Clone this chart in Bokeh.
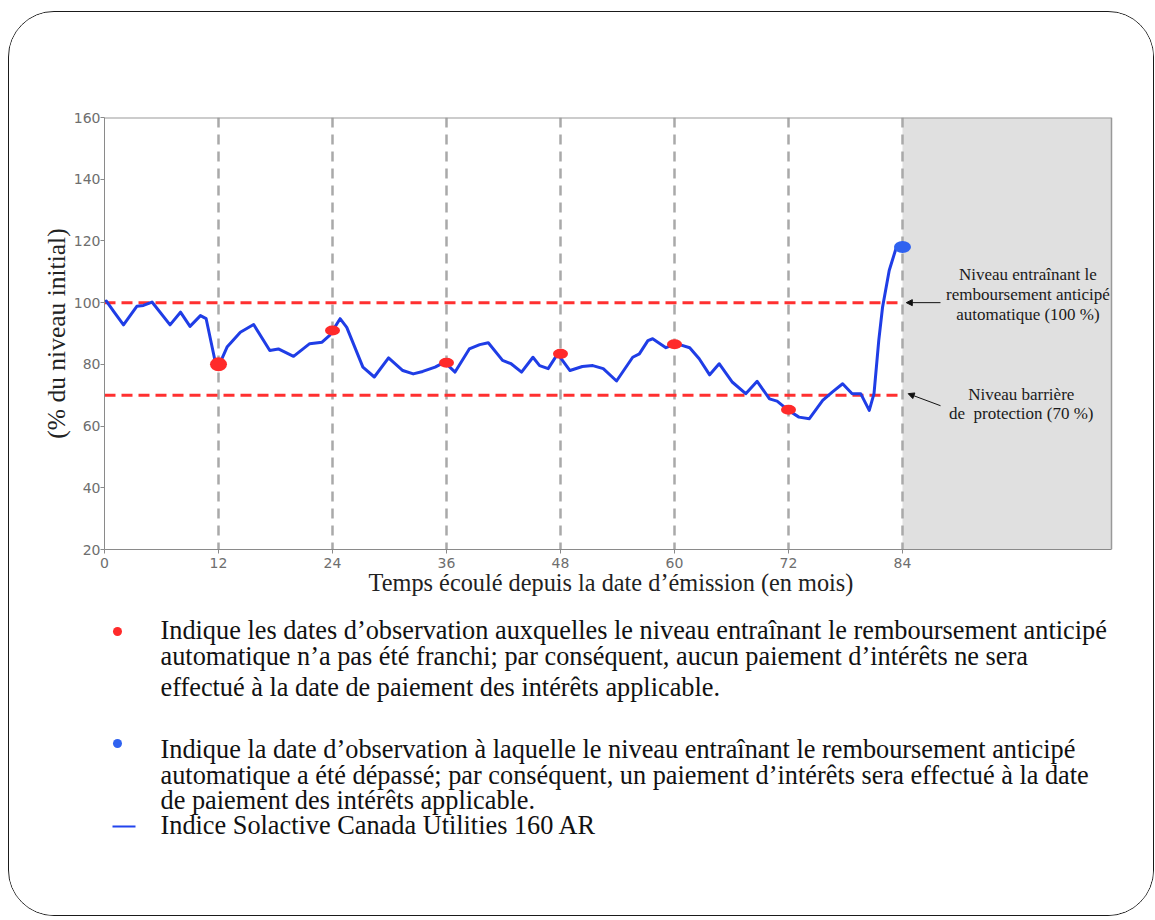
from bokeh.plotting import figure
from bokeh.layouts import column
from bokeh.models import (FixedTicker, Span, BoxAnnotation, Label, Arrow,
                          NormalHead, Range1d)
from bokeh.core.properties import value
from bokeh.embed import file_html
from bokeh.resources import INLINE

# ---------------- data ----------------
months = [0.2, 1.0, 2.0, 3.4, 4.1, 5.0, 6.9, 8.0, 9.0, 10.1, 10.7, 11.7, 12.2,
          12.9, 14.3, 15.7, 17.4, 18.3, 19.9, 21.6, 22.9, 23.7, 24.8, 25.5,
          27.2, 28.4, 29.9, 31.4, 32.5, 33.5, 34.8, 35.8, 36.9, 38.4, 39.5,
          40.4, 41.9, 42.8, 43.9, 45.1, 45.8, 46.7, 47.7, 49.0, 50.3, 51.4,
          52.5, 53.9, 55.6, 56.3, 57.2, 57.7, 59.1, 60.2, 61.6, 62.6, 63.7,
          64.7, 66.1, 67.5, 68.7, 70.0, 70.8, 71.9, 73.1, 74.2, 75.6, 76.6,
          77.7, 78.7, 79.6, 80.5, 81.0, 81.5, 81.9, 82.6, 83.3, 84.0]
index_level = [100.5, 97.0, 92.8, 98.8, 99.1, 100.2, 92.8, 96.9, 92.3, 95.8,
               94.8, 80.2, 80.7, 85.6, 90.4, 92.9, 84.5, 85.0, 82.6, 86.7,
               87.2, 89.4, 94.8, 92.0, 79.1, 75.9, 82.1, 78.0, 76.9, 77.7,
               79.1, 80.7, 77.5, 85.0, 86.4, 87.0, 81.3, 80.2, 77.5, 82.3,
               79.6, 78.6, 83.4, 78.0, 79.3, 79.6, 78.6, 74.6, 82.3, 83.4,
               87.7, 88.3, 85.4, 86.7, 85.4, 81.8, 76.6, 80.2, 74.2, 70.5,
               74.5, 68.8, 68.1, 65.3, 62.9, 62.4, 68.3, 71.0, 73.7, 70.5,
               70.5, 65.1, 70.5, 87.7, 98.5, 110.4, 117.4, 118.0]

obs_months = [12, 24, 36, 48, 60, 72]
obs_levels = [80.0, 91.0, 80.5, 83.4, 86.5, 65.3]
call_months = [84]
call_levels = [118.0]

autocall_level = 100
barrier_level = 70
maturity = 84
chart_end = 106

x_ticks = [0, 12, 24, 36, 48, 60, 72, 84]
y_ticks = [20, 40, 60, 80, 100, 120, 140, 160]

x_title = "Temps écoulé depuis la date d’émission (en mois)"
y_title = "(% du niveau initial)"

autocall_note = ["Niveau entraînant le", "remboursement anticipé",
                 "automatique (100 %)"]
barrier_note = ["Niveau barrière", "de\u00a0 protection (70 %)"]

legend_red = ["Indique les dates d’observation auxquelles le niveau entraînant le remboursement anticipé",
              "automatique n’a pas été franchi; par conséquent, aucun paiement d’intérêts ne sera",
              "effectué à la date de paiement des intérêts applicable."]
legend_blue = ["Indique la date d’observation à laquelle le niveau entraînant le remboursement anticipé",
               "automatique a été dépassé; par conséquent, un paiement d’intérêts sera effectué à la date",
               "de paiement des intérêts applicable."]
legend_line = ["Indice Solactive Canada Utilities 160 AR"]

SERIF = "Liberation Serif"
RED = "#ff2a2a"
BLUE_LINE = "#1f3de6"
BLUE_DOT = "#2f62f0"
FRAME_GREY = "#999999"

# page geometry: box at (8, 11) with a 1px border
OX, OY = 9, 12
TOTAL_W, TOTAL_H = 1144, 903
LEFT = 95
FRAME_W = 1013
RIGHT = TOTAL_W - LEFT - FRAME_W
PX_PER_MONTH = 1007 / chart_end           # 9.5 px per month

# ---------------- chart figure ----------------
p = figure(frame_width=FRAME_W, frame_height=432,
           x_range=Range1d(0, FRAME_W / PX_PER_MONTH),
           y_range=Range1d(20, 160),
           min_border_left=LEFT, min_border_right=RIGHT,
           min_border_top=105, min_border_bottom=60,
           output_backend="svg", toolbar_location=None)
p.background_fill_color = "white"
p.border_fill_color = "white"
p.outline_line_color = None
p.grid.visible = False

p.xaxis.ticker = FixedTicker(ticks=x_ticks)
p.yaxis.ticker = FixedTicker(ticks=y_ticks)
p.xaxis.bounds = (0, chart_end)
for ax in (p.xaxis[0], p.yaxis[0]):
    ax.major_label_text_font = "DejaVu Sans"
    ax.major_label_text_font_size = "14px"
    ax.major_label_text_color = "#6e6e6e"
    ax.axis_line_color = "#8a8a8a"
    ax.major_tick_line_color = "#8a8a8a"
    ax.major_tick_out = 4
    ax.major_tick_in = 0
    ax.minor_tick_out = 0
    ax.minor_tick_in = 0
    ax.axis_label_text_font = SERIF
    ax.axis_label_text_font_style = "normal"
    ax.axis_label_text_color = "#222222"
p.xaxis.axis_label = x_title
p.yaxis.axis_label = y_title
p.xaxis.axis_label_text_font_size = "24.3px"
p.yaxis.axis_label_text_font_size = "25.5px"
p.xaxis.major_label_standoff = 4
p.xaxis.axis_label_standoff = -2
p.yaxis.major_label_standoff = 0
p.yaxis.axis_label_standoff = 0

# shaded region after maturity + chart box edges
p.add_layout(BoxAnnotation(left=maturity, right=chart_end, fill_color="#e0e0e0",
                           fill_alpha=1, line_color=None, level="underlay"))
p.add_layout(Span(location=chart_end, dimension="height", line_color=FRAME_GREY,
                  line_width=1.5, level="underlay"))
p.segment(x0=[0], y0=[160], x1=[chart_end], y1=[160], line_color=FRAME_GREY,
          line_width=2)

# observation date verticals
for m in x_ticks[1:]:
    p.add_layout(Span(location=m, dimension="height", line_color="#a9a9a9",
                      line_width=2.5, line_dash="10 7", level="underlay"))

# threshold lines
p.segment(x0=[0, 0], y0=[autocall_level, barrier_level],
          x1=[maturity, maturity], y1=[autocall_level, barrier_level],
          line_color="#ff3030", line_width=3, line_dash="11 6")

# index line
p.line(months, index_level, line_color=BLUE_LINE, line_width=3,
       line_join="round", line_cap="round")

# observation markers
p.ellipse(x=obs_months, y=obs_levels, width=[17, 15, 15, 15, 15, 15],
          height=[14, 10, 10, 10, 10, 10], width_units="screen",
          height_units="screen", fill_color=RED, line_color=None)
p.ellipse(x=call_months, y=call_levels, width=17, height=12,
          width_units="screen", height_units="screen",
          fill_color=BLUE_DOT, line_color=None)


def note(lines, x, y0, step):
    for i, t in enumerate(lines):
        p.add_layout(Label(x=x, y=y0 - i * step, text=t, text_align="center",
                           text_baseline="middle", text_font=SERIF,
                           text_font_size="17px", text_color="#1a1a1a"))


note(autocall_note, 97.2, 109.1, 6.5)
note(barrier_note, 96.5, 70.2, 6.2)

p.add_layout(Arrow(end=NormalHead(size=6, fill_color="#111111", line_color="#111111"),
                   x_start=88.0, y_start=autocall_level, x_end=84.4,
                   y_end=autocall_level, line_width=1, line_color="#111111"))
p.add_layout(Arrow(end=NormalHead(size=6, fill_color="#111111", line_color="#111111"),
                   x_start=88.0, y_start=66.6, x_end=84.6,
                   y_end=barrier_level + 0.5, line_width=1, line_color="#111111"))

# ---------------- legend figure (coordinates = page pixels) ----------------
P_H = 105 + 432 + 60
Q_H = TOTAL_H - P_H
TOP = OY + P_H
q = figure(width=TOTAL_W, height=Q_H,
           x_range=Range1d(OX + LEFT, OX + LEFT + FRAME_W),
           y_range=Range1d(TOP + Q_H, TOP),
           min_border_left=LEFT, min_border_right=RIGHT,
           min_border_top=0, min_border_bottom=0,
           x_axis_type=None, y_axis_type=None,
           output_backend="svg", toolbar_location=None)
q.grid.visible = False
q.outline_line_color = None
q.background_fill_color = "white"
q.border_fill_color = "white"

red_base = [630, 656, 687]
blue_base = [749, 775, 800]
line_base = [825]
text_x = 160

for lines, bases in ((legend_red, red_base), (legend_blue, blue_base),
                     (legend_line, line_base)):
    q.text(x=[text_x] * len(lines), y=bases, text=lines,
           text_font=value(SERIF), text_font_size="26.3px",
           text_baseline="alphabetic", text_align="left", text_color="#111111")

q.scatter(x=[117], y=[red_base[0] + 1], size=9, color=RED, line_color=None)
q.scatter(x=[117], y=[blue_base[0] - 6], size=9, color=BLUE_DOT, line_color=None)
q.segment(x0=[112], y0=[line_base[0] + 1], x1=[135], y1=[line_base[0] + 1],
          line_color="#2244ee", line_width=2)

layout = column(p, q)
layout.styles = {"border": "1px solid #1a1a1a", "border-radius": "46px",
                 "overflow": "hidden", "background-color": "white",
                 "margin": "11px 0 0 8px"}

open("out.html", "w").write(file_html(layout, INLINE))
